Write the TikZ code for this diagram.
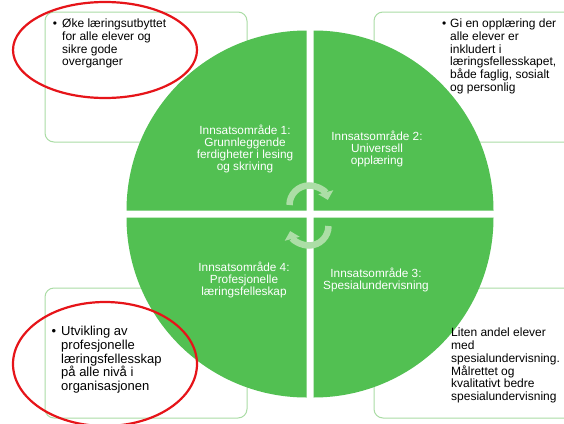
\documentclass[tikz,border=0pt]{standalone}
\usepackage{fontspec}
\setmainfont{Liberation Sans}
\usetikzlibrary{arrows.meta}
\definecolor{kgreen}{RGB}{82,192,82}
\definecolor{kline}{RGB}{170,220,165}
\definecolor{karrow}{RGB}{172,222,166}
\definecolor{kred}{RGB}{230,20,25}

\begin{document}
\begin{tikzpicture}[x=1pt,y=-1pt,
  box/.style={draw=kline,line width=1pt,rounded corners=9pt},
  txt/.style={anchor=north west,inner sep=0pt,align=left,font=\fontsize{12}{12.7}\selectfont},
  quad/.style={text=white,align=center,inner sep=0pt,font=\fontsize{11.8}{12.2}\selectfont},
  turn/.style={karrow,line width=6.5pt,-{Triangle[width=15pt,length=8pt]}},
  ring/.style={kred,line width=2.2pt}]

\fill[white] (0,0) rectangle (564,423);
\useasboundingbox (0,0) rectangle (564,423);

{
\begin{scope}
\draw[box] (45,12) rectangle (247,142);
\draw[box] (374,12) rectangle (580,142);
\draw[box] (45,288) rectangle (247,418);
\draw[box] (374,288) rectangle (580,418);
\end{scope}

\begin{scope}
\coordinate (c) at (310,214);
\fill[kgreen] ([shift={(-3.5,-3.5)}]c) -- +(-180,0) arc[start angle=180,end angle=270,radius=180] -- cycle;
\fill[kgreen] ([shift={(3.5,-3.5)}]c) -- +(0,-180) arc[start angle=270,end angle=360,radius=180] -- cycle;
\fill[kgreen] ([shift={(3.5,3.5)}]c) -- +(180,0) arc[start angle=0,end angle=90,radius=180] -- cycle;
\fill[kgreen] ([shift={(-3.5,3.5)}]c) -- +(0,180) arc[start angle=90,end angle=180,radius=180] -- cycle;

\coordinate (a1) at (309,205);
\coordinate (a2) at (309,226);
\draw[turn] ([shift={(-19.5,0)}]a1) arc[start angle=180,end angle=345,radius=19.5];
\draw[turn] ([shift={(19.5,0)}]a2) arc[start angle=0,end angle=165,radius=19.5];
\end{scope}

\begin{scope}
\node[quad] (q1) at (245,149) {Innsatsområde 1:\\Grunnleggende\\ferdigheter i lesing\\og skriving};
\node[quad] (q2) at (377,149) {Innsatsområde 2:\\Universell\\opplæring};
\node[quad] (q3) at (376,280) {Innsatsområde 3:\\Spesialundervisning};
\node[quad] (q4) at (244,280) {Innsatsområde 4:\\Profesjonelle\\læringsfelleskap};
\end{scope}

\begin{scope}
\node[txt] (t1) at (62,19) {\llap{\textbullet\hspace{5pt}}Øke læringsutbyttet\\for alle elever og\\sikre gode\\overganger};
\node[txt] (t2) at (450,19) {\llap{\textbullet\hspace{4pt}}Gi en opplæring der\\alle elever er\\inkludert i\\læringsfellesskapet,\\både faglig, sosialt\\og personlig};
\node[txt,font=\fontsize{13}{13.75}\selectfont] (t3) at (61,326) {\llap{\textbullet\hspace{5pt}}Utvikling av\\profesjonelle\\læringsfellesskap\\på alle nivå i\\organisasjonen};
\node[txt] (t4) at (451,328) {Liten andel elever\\med\\spesialundervisning.\\Målrettet og\\kvalitativt bedre\\spesialundervisning};
\end{scope}

\draw[ring] (105,50) ellipse[x radius=92,y radius=48];
\draw[ring] (105,364) ellipse[x radius=92,y radius=62];
}

\end{tikzpicture}
\end{document}
